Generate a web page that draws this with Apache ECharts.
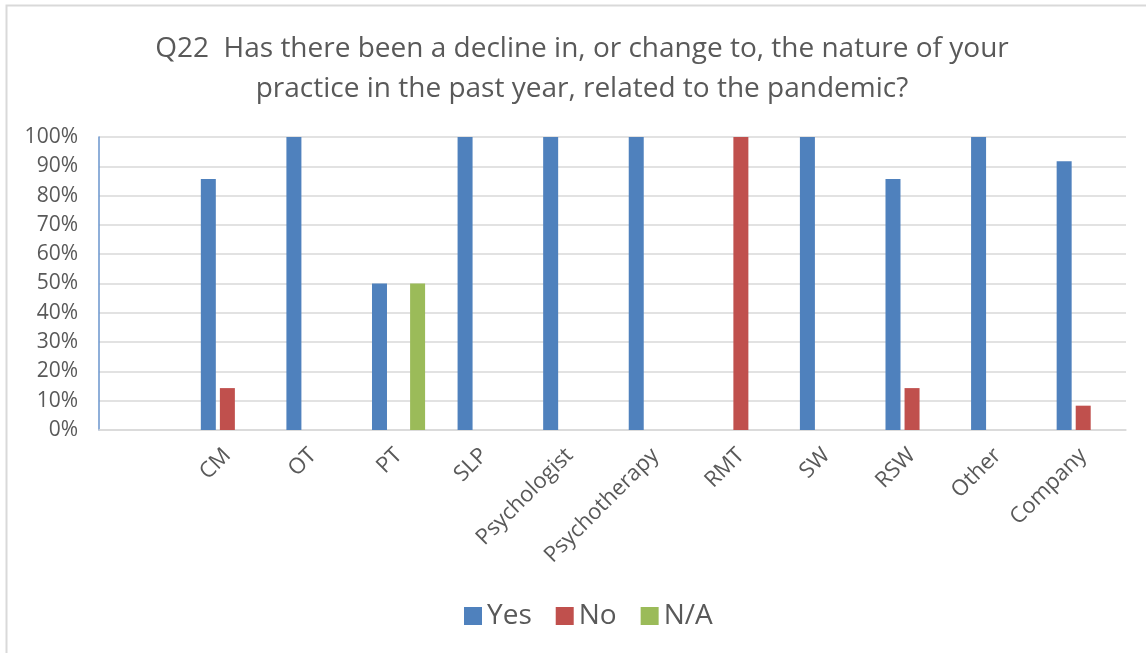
<!DOCTYPE html>
<html>
<head>
<meta charset="utf-8">
<style>
  html, body { margin: 0; padding: 0; background: #fff; }
  #chart { width: 1146px; height: 653px; }
</style>
<script src="https://cdn.jsdelivr.net/npm/echarts@6/dist/echarts.min.js"></script>
</head>
<body>
<div id="chart"></div>
<script>
// categories (first one is blank in the source sheet)
var categories = ["", "CM", "OT", "PT", "SLP", "Psychologist", "Psychotherapy", "RMT", "SW", "RSW", "Other", "Company"];
var yesData = [null, 85.7, 100, 50, 100, 100, 100, 0, 100, 85.7, 100, 91.7];
var noData = [null, 14.3, 0, 0, 0, 0, 0, 100, 0, 14.3, 0, 8.3];
var naData = [null, 0, 0, 50, 0, 0, 0, 0, 0, 0, 0, 0];
var legendData = ["Yes", "No", "N/A"];

var fontFamily = "'Open Sans', 'Noto Sans', sans-serif";
var textColor = "#595959";

var chart = echarts.init(document.getElementById("chart"));

function barSeries(name, color, data) {
    return {
        name: name,
        type: "bar",
        barWidth: 15,
        barGap: "27%",
        itemStyle: {
            color: color
        },
        data: data
    };
}

chart.setOption({
    animation: false,
    backgroundColor: "#fff",
    graphic: [
        {
            // outer chart border
            type: "rect",
            shape: { x: 6.5, y: 5.5, width: 1200, height: 700 },
            style: { fill: "none", stroke: "#d9d9d9", lineWidth: 2 },
            silent: true
        }
    ],
    title: {
        text: "Q22  Has there been a decline in, or change to, the nature of your\npractice in the past year, related to the pandemic?",
        left: 577,
        top: 24,
        textAlign: "center",
        textStyle: {
            fontFamily: fontFamily,
            fontSize: 28,
            fontWeight: "normal",
            color: textColor,
            lineHeight: 40
        }
    },
    legend: {
        data: legendData,
        left: 459,
        top: 597,
        itemWidth: 18,
        itemHeight: 18,
        itemGap: 24,
        icon: "rect",
        textStyle: {
            fontFamily: fontFamily,
            fontSize: 28,
            color: textColor
        }
    },
    grid: {
        left: 99,
        right: 20,
        top: 137,
        bottom: 223
    },
    xAxis: {
        type: "category",
        data: categories,
        axisLine: {
            lineStyle: { color: "#d9d9d9", width: 1.5 }
        },
        axisTick: { show: false },
        axisLabel: {
            interval: 0,
            rotate: 45,
            margin: 22,
            fontFamily: fontFamily,
            fontSize: 22,
            color: textColor
        }
    },
    yAxis: {
        type: "value",
        min: 0,
        max: 100,
        interval: 10,
        axisLine: {
            show: true,
            lineStyle: { color: "#6a95cc", width: 1.5 }
        },
        axisTick: { show: false },
        splitLine: {
            lineStyle: { color: "#d9d9d9", width: 1.5 }
        },
        axisLabel: {
            formatter: "{value}%",
            margin: 21,
            fontFamily: fontFamily,
            fontSize: 21,
            color: textColor
        }
    },
    series: [
        barSeries(legendData[0], "#4F81BD", yesData),
        barSeries(legendData[1], "#C0504D", noData),
        barSeries(legendData[2], "#9BBB59", naData)
    ]
});
</script>
</body>
</html>
